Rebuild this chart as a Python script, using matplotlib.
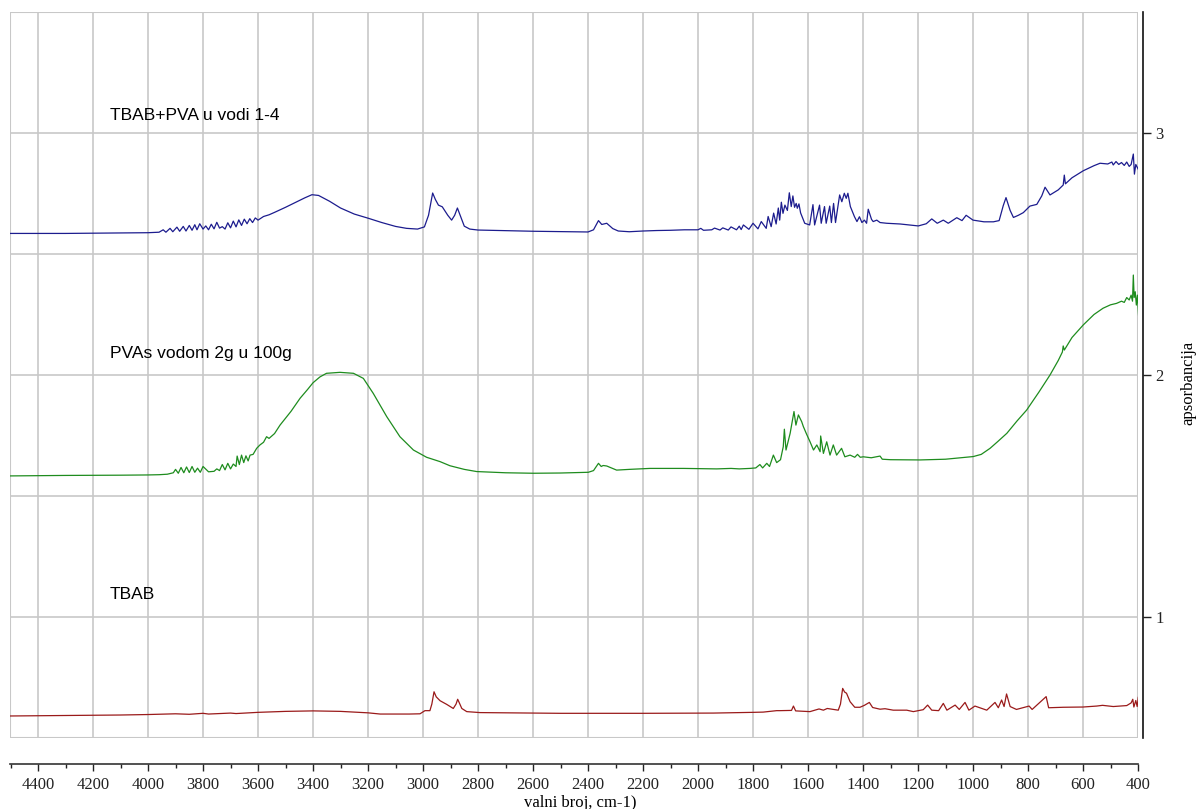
import matplotlib
matplotlib.use("Agg")
import matplotlib.pyplot as plt
from matplotlib.patches import Rectangle
from matplotlib.ticker import FixedLocator

# ── Podaci (očitano sa slike): (valni broj, apsorbancija) ────────────────────

tbab_pva = [
    (4500, 2.585), (4300, 2.585), (4100, 2.587), (4000, 2.588), (3960, 2.590),
    (3945, 2.600), (3935, 2.590), (3920, 2.606), (3910, 2.592), (3895, 2.611), (3885, 2.594),
    (3872, 2.614), (3862, 2.595), (3850, 2.618), (3840, 2.598), (3830, 2.621), (3822, 2.600),
    (3812, 2.625), (3800, 2.603), (3790, 2.616), (3780, 2.600), (3770, 2.623), (3760, 2.604),
    (3750, 2.631), (3740, 2.607), (3730, 2.613), (3720, 2.603), (3710, 2.629), (3700, 2.608),
    (3690, 2.636), (3680, 2.612), (3670, 2.641), (3660, 2.618), (3650, 2.644), (3640, 2.625),
    (3630, 2.646), (3620, 2.630), (3610, 2.649), (3600, 2.640),
    (3580, 2.655), (3560, 2.662), (3540, 2.672), (3500, 2.693), (3460, 2.715), (3430, 2.732),
    (3404, 2.745), (3380, 2.742), (3340, 2.718), (3300, 2.690), (3250, 2.665), (3200, 2.648),
    (3150, 2.630), (3100, 2.614), (3060, 2.606), (3020, 2.603),
    (2995, 2.612), (2980, 2.660), (2965, 2.752), (2955, 2.725), (2944, 2.702), (2930, 2.695),
    (2910, 2.660), (2896, 2.640), (2885, 2.660), (2875, 2.690), (2865, 2.660), (2850, 2.615),
    (2830, 2.603), (2800, 2.599), (2600, 2.594), (2400, 2.591),
    (2380, 2.600), (2362, 2.638), (2350, 2.622), (2332, 2.627), (2310, 2.605), (2290, 2.595),
    (2250, 2.592), (2200, 2.595), (2150, 2.597), (2100, 2.598), (2050, 2.600), (2000, 2.600),
    (1990, 2.606), (1980, 2.598), (1950, 2.600), (1940, 2.607), (1920, 2.599), (1910, 2.608),
    (1890, 2.599), (1880, 2.612), (1860, 2.600), (1850, 2.615), (1843, 2.601), (1835, 2.620),
    (1815, 2.602), (1800, 2.627), (1782, 2.604), (1770, 2.634), (1752, 2.606), (1745, 2.655),
    (1734, 2.613), (1725, 2.669), (1716, 2.624), (1708, 2.690), (1703, 2.640), (1697, 2.714),
    (1691, 2.668), (1684, 2.702), (1675, 2.680), (1668, 2.753), (1661, 2.696), (1655, 2.740),
    (1649, 2.693), (1643, 2.709), (1639, 2.689), (1633, 2.707), (1627, 2.670), (1612, 2.627),
    (1594, 2.620),
    (1582, 2.704), (1576, 2.620), (1558, 2.702), (1552, 2.627), (1540, 2.696), (1534, 2.627),
    (1521, 2.698), (1515, 2.630), (1507, 2.709), (1500, 2.630), (1485, 2.744), (1477, 2.716),
    (1468, 2.751), (1461, 2.730), (1455, 2.751), (1446, 2.696), (1431, 2.654), (1422, 2.634),
    (1413, 2.654), (1404, 2.630), (1395, 2.640), (1387, 2.627), (1381, 2.685), (1369, 2.643),
    (1363, 2.634), (1350, 2.640), (1338, 2.630), (1314, 2.627), (1265, 2.624), (1199, 2.616),
    (1170, 2.625), (1150, 2.645), (1130, 2.627), (1108, 2.640), (1090, 2.627), (1059, 2.650),
    (1040, 2.638), (1025, 2.660), (1000, 2.640), (960, 2.633), (926, 2.633), (905, 2.638),
    (890, 2.700), (880, 2.733), (865, 2.680), (853, 2.651), (835, 2.660), (817, 2.671),
    (793, 2.698), (768, 2.705), (750, 2.740), (738, 2.776), (720, 2.744), (690, 2.765),
    (672, 2.785), (668, 2.826), (664, 2.790), (640, 2.815), (599, 2.844), (560, 2.865),
    (538, 2.875), (510, 2.872), (495, 2.880), (490, 2.868), (480, 2.882), (470, 2.870),
    (460, 2.878), (450, 2.866), (441, 2.880), (432, 2.862), (425, 2.870), (417, 2.913),
    (413, 2.830), (408, 2.870), (399, 2.850),
]

pva = [
    (4500, 1.583), (4300, 1.585), (4100, 1.586), (4000, 1.587), (3960, 1.588), (3930, 1.590),
    (3908, 1.596), (3900, 1.610), (3890, 1.594), (3880, 1.618), (3870, 1.596), (3860, 1.620),
    (3850, 1.597), (3840, 1.622), (3830, 1.598), (3820, 1.615), (3810, 1.598), (3800, 1.622),
    (3780, 1.600), (3760, 1.602), (3750, 1.612), (3740, 1.605), (3730, 1.630), (3720, 1.608),
    (3710, 1.635), (3700, 1.612), (3690, 1.632), (3680, 1.622), (3676, 1.665), (3668, 1.630),
    (3660, 1.669), (3652, 1.638), (3644, 1.666), (3636, 1.645), (3629, 1.669), (3618, 1.672),
    (3605, 1.697), (3593, 1.711), (3580, 1.722), (3569, 1.745), (3560, 1.738), (3540, 1.758),
    (3520, 1.793), (3480, 1.850), (3447, 1.904), (3420, 1.940), (3400, 1.968), (3375, 1.992),
    (3351, 2.007), (3302, 2.011), (3253, 2.007), (3217, 1.986), (3181, 1.924), (3132, 1.828),
    (3084, 1.745), (3035, 1.690), (2987, 1.660), (2938, 1.642), (2902, 1.625), (2850, 1.610),
    (2805, 1.601), (2700, 1.596), (2599, 1.594), (2500, 1.595), (2399, 1.598),
    (2380, 1.605), (2362, 1.635), (2352, 1.622), (2345, 1.626), (2332, 1.624), (2296, 1.607),
    (2250, 1.610), (2175, 1.614), (2053, 1.614), (1932, 1.612), (1880, 1.614), (1850, 1.612),
    (1811, 1.614), (1790, 1.616), (1775, 1.630), (1765, 1.616), (1750, 1.635), (1740, 1.622),
    (1726, 1.669), (1714, 1.638), (1700, 1.650), (1690, 1.704), (1686, 1.776), (1680, 1.690),
    (1665, 1.759), (1651, 1.849), (1644, 1.793), (1635, 1.835), (1623, 1.807), (1617, 1.787),
    (1605, 1.755), (1593, 1.725), (1580, 1.690), (1568, 1.711), (1556, 1.683), (1554, 1.748),
    (1544, 1.676), (1532, 1.724), (1520, 1.669), (1508, 1.711), (1496, 1.669), (1478, 1.697),
    (1466, 1.662), (1447, 1.669), (1430, 1.660), (1420, 1.672), (1410, 1.660), (1399, 1.662),
    (1370, 1.658), (1338, 1.665), (1330, 1.652), (1300, 1.650), (1193, 1.649), (1100, 1.652),
    (999, 1.663), (970, 1.672), (938, 1.697), (910, 1.725), (877, 1.759), (840, 1.810),
    (805, 1.855), (760, 1.930), (720, 2.000), (690, 2.060), (675, 2.095), (672, 2.120),
    (668, 2.103), (640, 2.155), (599, 2.207), (560, 2.250), (527, 2.276), (500, 2.290),
    (478, 2.296), (460, 2.305), (450, 2.300), (441, 2.320), (432, 2.310), (425, 2.330),
    (420, 2.305), (417, 2.413), (414, 2.320), (410, 2.344), (406, 2.289), (402, 2.330),
    (398, 2.248),
]

tbab = [
    (4500, 0.591), (4300, 0.593), (4100, 0.595), (4000, 0.597), (3900, 0.600), (3850, 0.598),
    (3800, 0.602), (3780, 0.599), (3700, 0.603), (3680, 0.601), (3600, 0.606), (3500, 0.610),
    (3400, 0.612), (3300, 0.610), (3200, 0.604), (3156, 0.599), (3050, 0.599), (3011, 0.600),
    (2993, 0.613), (2975, 0.613), (2968, 0.640), (2960, 0.691), (2952, 0.670), (2938, 0.654),
    (2914, 0.639), (2890, 0.622), (2880, 0.640), (2874, 0.660), (2866, 0.640), (2859, 0.622),
    (2841, 0.609), (2793, 0.605), (2500, 0.602), (2200, 0.602), (1944, 0.603), (1800, 0.606),
    (1763, 0.607), (1714, 0.613), (1702, 0.613), (1660, 0.614), (1653, 0.632), (1645, 0.612),
    (1593, 0.609), (1560, 0.620), (1544, 0.615), (1530, 0.622), (1490, 0.615), (1482, 0.640),
    (1474, 0.705), (1467, 0.690), (1460, 0.685), (1447, 0.650), (1430, 0.627), (1411, 0.627),
    (1395, 0.635), (1377, 0.647), (1365, 0.626), (1338, 0.619), (1320, 0.621), (1290, 0.615),
    (1241, 0.615), (1217, 0.609), (1181, 0.617), (1165, 0.636), (1150, 0.615), (1125, 0.613),
    (1108, 0.643), (1095, 0.615), (1065, 0.636), (1050, 0.618), (1029, 0.647), (1015, 0.615),
    (993, 0.632), (950, 0.615), (920, 0.647), (908, 0.625), (896, 0.657), (887, 0.630),
    (878, 0.682), (865, 0.630), (842, 0.618), (796, 0.632), (785, 0.618), (734, 0.671),
    (725, 0.625), (672, 0.627), (600, 0.628), (550, 0.632), (529, 0.635), (490, 0.630),
    (441, 0.634), (425, 0.645), (419, 0.660), (415, 0.628), (408, 0.655), (403, 0.630),
    (399, 0.668),
]

labels = ["TBAB+PVA u vodi 1-4", "PVAs vodom 2g u 100g", "TBAB"]
label_y = [3.074, 2.09, 1.095]
colors = ["#1c1c8e", "#1e8c1e", "#9a1a1a"]

# ── Crtanje ──────────────────────────────────────────────────────────────────

W, H = 1198, 809
fig = plt.figure(figsize=(W / 100, H / 100), dpi=100)
ax = fig.add_axes([10 / W, (H - 738) / H, 1128 / W, 726 / H])

ax.set_xlim(4502, 400)
ax.set_ylim(0.5, 3.5)

for data, col, label, ly in zip([tbab_pva, pva, tbab], colors, labels, label_y):
    wn, ab = zip(*data)
    ax.plot(wn, ab, color=col, linewidth=0.9)
    ax.text(4140, ly, label, fontsize=12.5, family="Liberation Sans",
            ha="left", va="center", color="black")

# mreža i okvir
grid_col = "#c8c8c8"
ax.xaxis.set_major_locator(FixedLocator(list(range(400, 4401, 200))))
ax.xaxis.set_minor_locator(FixedLocator(list(range(500, 4501, 200))))
ax.yaxis.set_major_locator(FixedLocator([1, 2, 3]))
ax.yaxis.set_minor_locator(FixedLocator([1.5, 2.5]))
ax.grid(True, which="major", color=grid_col, linewidth=1.2)
ax.grid(True, which="minor", axis="y", color=grid_col, linewidth=1.2)
ax.add_patch(Rectangle((0, 0), 1, 1, transform=ax.transAxes, fill=False,
                       edgecolor=grid_col, linewidth=1.5, zorder=0.5))

for s in ("left", "top"):
    ax.spines[s].set_visible(False)
ax.spines["bottom"].set_position(("outward", 19))
ax.spines["bottom"].set_color("#333333")
ax.spines["bottom"].set_linewidth(1.2)
ax.spines["right"].set_position(("outward", 3.6))
ax.spines["right"].set_color("#111111")
ax.spines["right"].set_linewidth(1.2)

ax.yaxis.tick_right()
ax.tick_params(axis="x", which="major", direction="out", length=5, width=1,
               labelsize=12, pad=4, colors="#222222")
ax.tick_params(axis="x", which="minor", direction="out", length=3, width=1, colors="#222222")
ax.tick_params(axis="y", which="major", direction="out", length=6, width=1,
               labelsize=12, pad=3, colors="#222222")
ax.tick_params(axis="y", which="minor", length=0)
for lab in ax.get_xticklabels() + ax.get_yticklabels():
    lab.set_family("Liberation Serif")

fig.text(580 / W, 1 - 803 / H, "valni broj, cm-1)", family="Liberation Serif",
         fontsize=12, ha="center", va="center")
fig.text(1188 / W, 1 - 383 / H, "apsorbancija", family="Liberation Serif",
         fontsize=12, ha="center", va="center", rotation=90)

fig.savefig("out.png", dpi=100)
